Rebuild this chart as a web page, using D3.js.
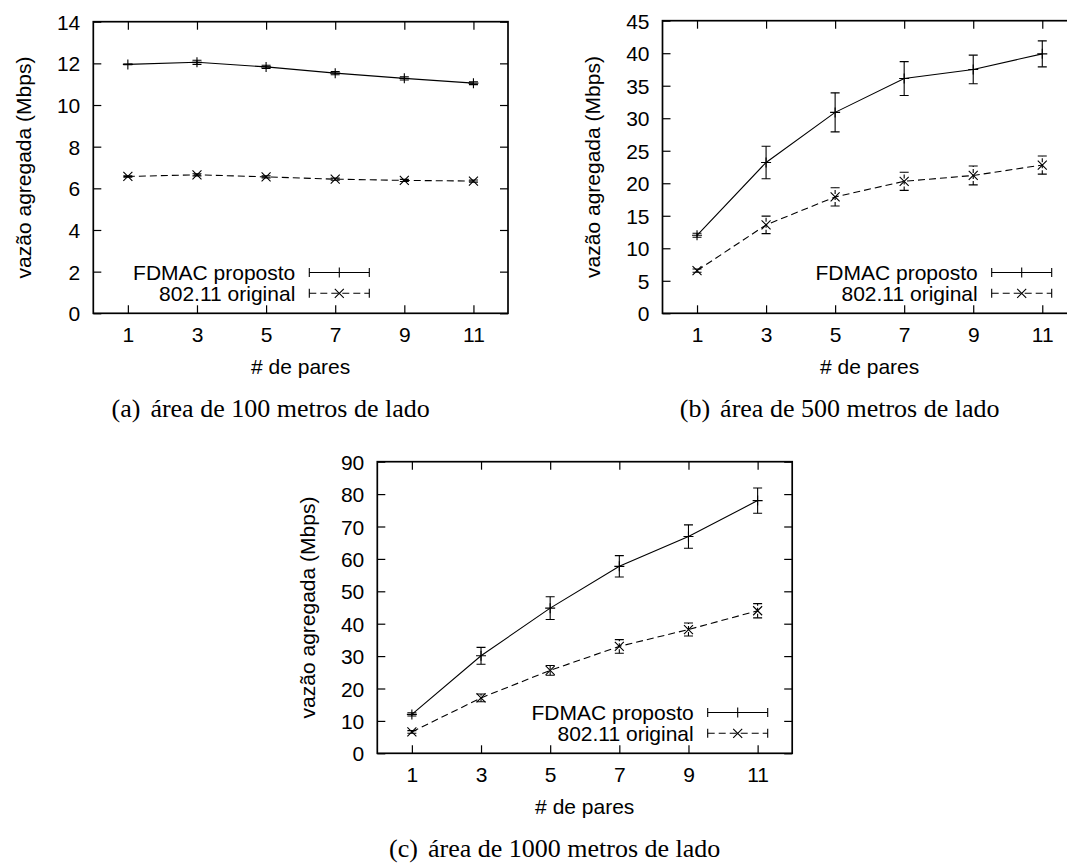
<!DOCTYPE html>
<html>
<head>
<meta charset="utf-8">
<script src="https://cdn.jsdelivr.net/npm/d3@7"></script>
<style>
  html, body { margin: 0; padding: 0; background: #fff; }
  svg { display: block; }
  .ax text { font-family: "Liberation Sans", Arial, Helvetica, sans-serif; }
</style>
</head>
<body>
<svg id="chart" width="1067" height="863"></svg>
<script>
// ---------- data ----------
const pares = [1, 3, 5, 7, 9, 11];
const seriesNames = ["FDMAC proposto", "802.11 original"];

const fdmacA    = [11.95, 12.05, 11.83, 11.53, 11.28, 11.05];
const fdmacAErr = [0.02, 0.10, 0.08, 0.08, 0.08, 0.07];
const origA     = [6.57, 6.65, 6.55, 6.44, 6.38, 6.35];
const origAErr  = [0.03, 0.05, 0.05, 0.05, 0.05, 0.05];

const fdmacB    = [12.0, 23.2, 30.9, 36.1, 37.5, 39.9];
const fdmacBErr = [0.3, 2.5, 3.0, 2.6, 2.2, 2.0];
const origB     = [6.56, 13.6, 17.9, 20.3, 21.2, 22.8];
const origBErr  = [0.25, 1.35, 1.4, 1.4, 1.45, 1.4];

const fdmacC    = [12.0, 30.1, 44.8, 57.7, 66.9, 78.0];
const fdmacCErr = [0.5, 2.6, 3.5, 3.3, 3.6, 3.9];
const origC     = [6.6, 17.1, 25.6, 33.0, 38.2, 44.0];
const origCErr  = [0.4, 1.2, 1.5, 2.1, 2.0, 2.2];

const yTicksA = [0, 2, 4, 6, 8, 10, 12, 14];
const yTicksB = [0, 5, 10, 15, 20, 25, 30, 35, 40, 45];
const yTicksC = [0, 10, 20, 30, 40, 50, 60, 70, 80, 90];

const captions = ["(a)", "(b)", "(c)"];
const captionTexts = ["área de 100 metros de lado", "área de 500 metros de lado", "área de 1000 metros de lado"];
const xLabel = "# de pares";
const yLabel = "vazão agregada (Mbps)";

// ---------- layout ----------
const panels = [
  { left: 93.3,  top: 21.7,  w: 414.7, h: 291.6, yTicks: yTicksA, s1: fdmacA, e1: fdmacAErr, s2: origA, e2: origAErr, legEnd: 369.3 - 93.3, cap: 0 },
  { left: 662.5, top: 20.7,  w: 414.3, h: 292.6, yTicks: yTicksB, s1: fdmacB, e1: fdmacBErr, s2: origB, e2: origBErr, legEnd: 1051.7 - 662.5, cap: 1 },
  { left: 377.3, top: 461.7, w: 414.9, h: 291.6, yTicks: yTicksC, s1: fdmacC, e1: fdmacCErr, s2: origC, e2: origCErr, legEnd: 767.7 - 377.3, cap: 2 }
];

const svg = d3.select("#chart");
svg.append("rect").attr("width", 1067).attr("height", 863).attr("fill", "#fff");

const FONT = "'Liberation Sans', Arial, Helvetica, sans-serif";
const SERIF = "'Liberation Serif', 'Times New Roman', Times, serif";
const FS = 21;
const dash = "7,4";
const tickLen = 8;

function plusPath(x, y, r) { return `M${x - r},${y}H${x + r}M${x},${y - r}V${y + r}`; }
function crossPath(x, y, r) { return `M${x - r},${y - r}L${x + r},${y + r}M${x - r},${y + r}L${x + r},${y - r}`; }

panels.forEach(p => {
  const g = svg.append("g").attr("transform", `translate(${p.left},${p.top})`);
  const yMax = p.yTicks[p.yTicks.length - 1];
  const x = d3.scaleLinear().domain([0, 12]).range([0, p.w]);
  const y = d3.scaleLinear().domain([0, yMax]).range([p.h, 0]);

  // axes (ticks inward, mirrored)
  const axL = d3.axisLeft(y).tickValues(p.yTicks).tickSizeInner(-tickLen).tickSizeOuter(0).tickPadding(13);
  const axR = d3.axisRight(y).tickValues(p.yTicks).tickSizeInner(-tickLen).tickSizeOuter(0).tickFormat("");
  const axB = d3.axisBottom(x).tickValues(pares).tickSizeInner(-tickLen).tickSizeOuter(0).tickPadding(13);
  const axT = d3.axisTop(x).tickValues(pares).tickSizeInner(-tickLen).tickSizeOuter(0).tickFormat("");

  const gl = g.append("g").attr("class", "ax").call(axL);
  const gr = g.append("g").attr("class", "ax").attr("transform", `translate(${p.w},0)`).call(axR);
  const gb = g.append("g").attr("class", "ax").attr("transform", `translate(0,${p.h})`).call(axB);
  const gt = g.append("g").attr("class", "ax").call(axT);
  [gl, gr, gb, gt].forEach(a => {
    a.selectAll(".domain").remove();
    a.selectAll(".tick line").attr("stroke", "#000").attr("stroke-width", 1.2);
  });
  gl.selectAll(".tick text").attr("font-size", FS).attr("fill", "#000").attr("dy", "0.36em");
  gb.selectAll(".tick text").attr("font-size", FS).attr("fill", "#000").attr("dy", "0").attr("y", 28.5);

  // frame
  g.append("rect").attr("x", 0).attr("y", 0).attr("width", p.w).attr("height", p.h)
    .attr("fill", "none").attr("stroke", "#000").attr("stroke-width", 1.7);

  // axis titles
  g.append("text").attr("transform", `translate(${-70},${p.h / 2}) rotate(-90)`)
    .attr("text-anchor", "middle").attr("dy", "0.36em")
    .attr("font-family", FONT).attr("font-size", FS).text(yLabel);
  g.append("text").attr("x", p.w / 2).attr("y", p.h + 60.5)
    .attr("text-anchor", "middle").attr("font-family", FONT).attr("font-size", FS).text(xLabel);

  // caption
  const ct = g.append("text").attr("x", p.w / 2 - 30).attr("y", p.h + 104)
    .attr("text-anchor", "middle").attr("font-family", SERIF).attr("font-size", 26);
  ct.append("tspan").text(captions[p.cap]);
  ct.append("tspan").attr("dx", 10).text(captionTexts[p.cap]);

  // series
  const defs = [
    { vals: p.s1, errs: p.e1, dashed: false, marker: plusPath, mr: 5 },
    { vals: p.s2, errs: p.e2, dashed: true, marker: crossPath, mr: 4.5 }
  ];
  defs.forEach(d => {
    const pts = pares.map((px, i) => ({ x: px, y: d.vals[i], e: d.errs[i] }));
    const line = d3.line().x(q => x(q.x)).y(q => y(q.y));
    g.append("path").attr("d", line(pts)).attr("fill", "none").attr("stroke", "#000")
      .attr("stroke-width", 1.1).attr("stroke-dasharray", d.dashed ? dash : null);
    const eg = g.append("g").attr("stroke", "#000").attr("stroke-width", 1.1).attr("fill", "none");
    pts.forEach(q => {
      const cx = x(q.x), y0 = y(q.y - q.e), y1 = y(q.y + q.e);
      eg.append("path").attr("d", `M${cx},${y0}V${y1}`).attr("stroke-dasharray", d.dashed ? "4,2" : null);
      eg.append("path").attr("d", `M${cx - 4.5},${y0}H${cx + 4.5}M${cx - 4.5},${y1}H${cx + 4.5}`);
      eg.append("path").attr("d", d.marker(cx, y(q.y), d.mr));
    });
  });

  // legend
  const legRows = [p.h - 40.8, p.h - 20];
  defs.forEach((d, i) => {
    const ly = legRows[i];
    const x1 = p.legEnd, x0 = x1 - 60, xm = (x0 + x1) / 2;
    g.append("text").attr("x", x0 - 14).attr("y", ly).attr("dy", "0.36em")
      .attr("text-anchor", "end").attr("font-family", FONT).attr("font-size", FS).text(seriesNames[i]);
    g.append("path").attr("d", `M${x0},${ly}H${x1}`).attr("stroke", "#000").attr("stroke-width", 1.1)
      .attr("stroke-dasharray", d.dashed ? dash : null);
    g.append("path").attr("d", `M${x0},${ly - 4.5}V${ly + 4.5}M${x1},${ly - 4.5}V${ly + 4.5}`)
      .attr("stroke", "#000").attr("stroke-width", 1.1);
    g.append("path").attr("d", d.marker(xm, ly, d.mr)).attr("stroke", "#000").attr("stroke-width", 1.1);
  });
});
</script>
</body>
</html>
